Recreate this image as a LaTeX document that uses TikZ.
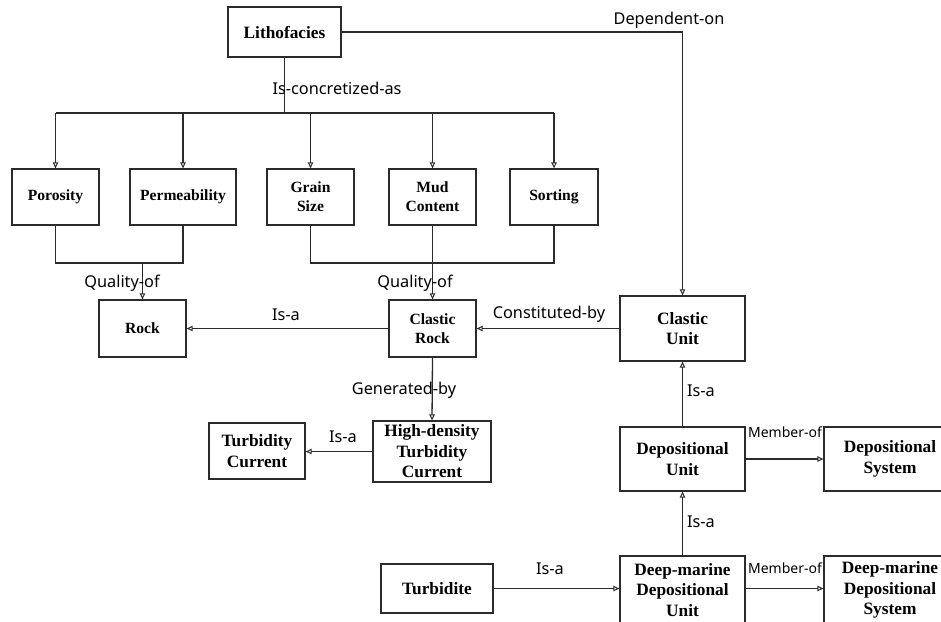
\documentclass[tikz,border=0pt]{standalone}
\usepackage{fontspec}
\setmainfont{Liberation Serif}
\newfontfamily\lblfont{Noto Sans}
\usetikzlibrary{arrows.meta}
\definecolor{ink}{HTML}{2B2B2B}
\tikzset{
  box/.style={draw=ink, line width=1.3pt, rectangle, inner sep=0pt, align=center,
    font=\bfseries\fontsize{17.3}{20.5}\selectfont, text=black},
  smallbox/.style={box, font=\bfseries\fontsize{15.6}{19}\selectfont},
  link/.style={draw=ink, line width=1.3pt},
  arr/.style={link, -{Triangle[open, length=6pt, width=5.5pt, line width=1pt]}},
  lbl/.style={font=\lblfont\fontsize{16.3}{18}\selectfont, text=black, inner sep=0pt},
  smalllbl/.style={lbl, font=\lblfont\fontsize{14}{16}\selectfont}
}
\begin{document}
\begin{tikzpicture}[x=1pt, y=-1pt]
  \useasboundingbox (0,0) rectangle (941,621);
  \clip (0,0) rectangle (941,621);

  % concepts
  \node[box, minimum width=113pt, minimum height=50pt] (litho) at (284.5,32) {Lithofacies};
  \node[smallbox, minimum width=87pt, minimum height=56pt] (poro) at (55.5,197) {Porosity};
  \node[smallbox, minimum width=106pt, minimum height=56pt] (perm) at (183,197) {Permeability};
  \node[smallbox, minimum width=87pt, minimum height=56pt] (grain) at (310.5,197) {Grain\\Size};
  \node[smallbox, minimum width=87pt, minimum height=56pt] (mud) at (432.5,197) {Mud\\Content};
  \node[smallbox, minimum width=88pt, minimum height=56pt] (sort) at (554,197) {Sorting};
  \node[smallbox, minimum width=87pt, minimum height=57pt] (rock) at (142.5,328.5) {Rock};
  \node[smallbox, minimum width=87pt, minimum height=57pt] (crock) at (432.5,328.5) {Clastic\\Rock};
  \node[box, minimum width=125pt, minimum height=65pt] (cunit) at (682.5,328.5) {Clastic\\Unit};
  \node[box, minimum width=118pt, minimum height=61pt] (hdtc) at (432,451.5) {High-density\\Turbidity\\Current};
  \node[box, minimum width=96pt, minimum height=56pt] (tc) at (257,451) {Turbidity\\Current};
  \node[box, minimum width=125pt, minimum height=64pt] (dunit) at (682.5,459) {Depositional\\Unit};
  \node[box, minimum width=132pt, minimum height=64pt] (dsys) at (890,459) {Depositional\\System};
  \node[box, minimum width=125pt, minimum height=68pt] (dmdu) at (682.5,590) {Deep-marine\\Depositional\\Unit};
  \node[box, minimum width=132pt, minimum height=68pt] (dmds) at (890,590) {Deep-marine\\Depositional\\System};
  \node[box, minimum width=112pt, minimum height=49pt] (turb) at (437,588.5) {Turbidite};

  % branching points
  \coordinate (bus) at (284.5,113);
  \coordinate (qleft) at (142.5,263);
  \coordinate (qright) at (432.5,263);

  % Lithofacies is concretized as five properties
  \draw[link] (litho.south) -- (bus);
  \draw[link] (poro.north |- bus) -- (sort.north |- bus);
  \foreach \n in {poro, perm, grain, mud, sort}
    \draw[arr] (\n.north |- bus) -- (\n.north);

  % properties are qualities of rocks
  \draw[link] (poro.south) -- (poro.south |- qleft) -- (perm.south |- qleft) -- (perm.south);
  \draw[arr] (qleft) -- (rock.north);
  \draw[link] (grain.south) -- (grain.south |- qright) -- (sort.south |- qright) -- (sort.south);
  \draw[arr] (mud.south) -- (crock.north);

  % remaining relations
  \draw[arr] (litho.east) -| (cunit.north);
  \draw[arr] (crock.west) -- (rock.east);
  \draw[arr] (cunit.west) -- (crock.east);
  \draw[arr] (crock.south) -- (hdtc.north);
  \draw[arr] (hdtc.west) -- (hdtc.west -| tc.east);
  \draw[arr] (dunit.north) -- (cunit.south);
  \draw[arr] (dunit.east) -- (dsys.west);
  \draw[arr] (dmdu.north) -- (dunit.south);
  \draw[arr] (turb.east) -- (turb.east -| dmdu.west);
  \draw[arr] (dmdu.east |- turb.east) -- (dmds.west |- turb.east);

  % relation labels
  \node[lbl] (ldep) at (669,20) {Dependent-on};
  \node[lbl] (lconc) at (337,88) {Is-concretized-as};
  \node[lbl] (lq1) at (122,283) {Quality-of};
  \node[lbl] (lq2) at (415,283) {Quality-of};
  \node[lbl] (lisa1) at (286,315) {Is-a};
  \node[lbl] (lcons) at (549,314) {Constituted-by};
  \node[lbl] (lgen) at (404,390) {Generated-by};
  \node[lbl] (lisa2) at (343,437) {Is-a};
  \node[lbl] (lisa3) at (701,391) {Is-a};
  \node[smalllbl] (lmem1) at (785,432) {Member-of};
  \node[lbl] (lisa4) at (701,522) {Is-a};
  \node[lbl] (lisa5) at (550,569) {Is-a};
  \node[smalllbl] (lmem2) at (785,568) {Member-of};
\end{tikzpicture}
\end{document}
